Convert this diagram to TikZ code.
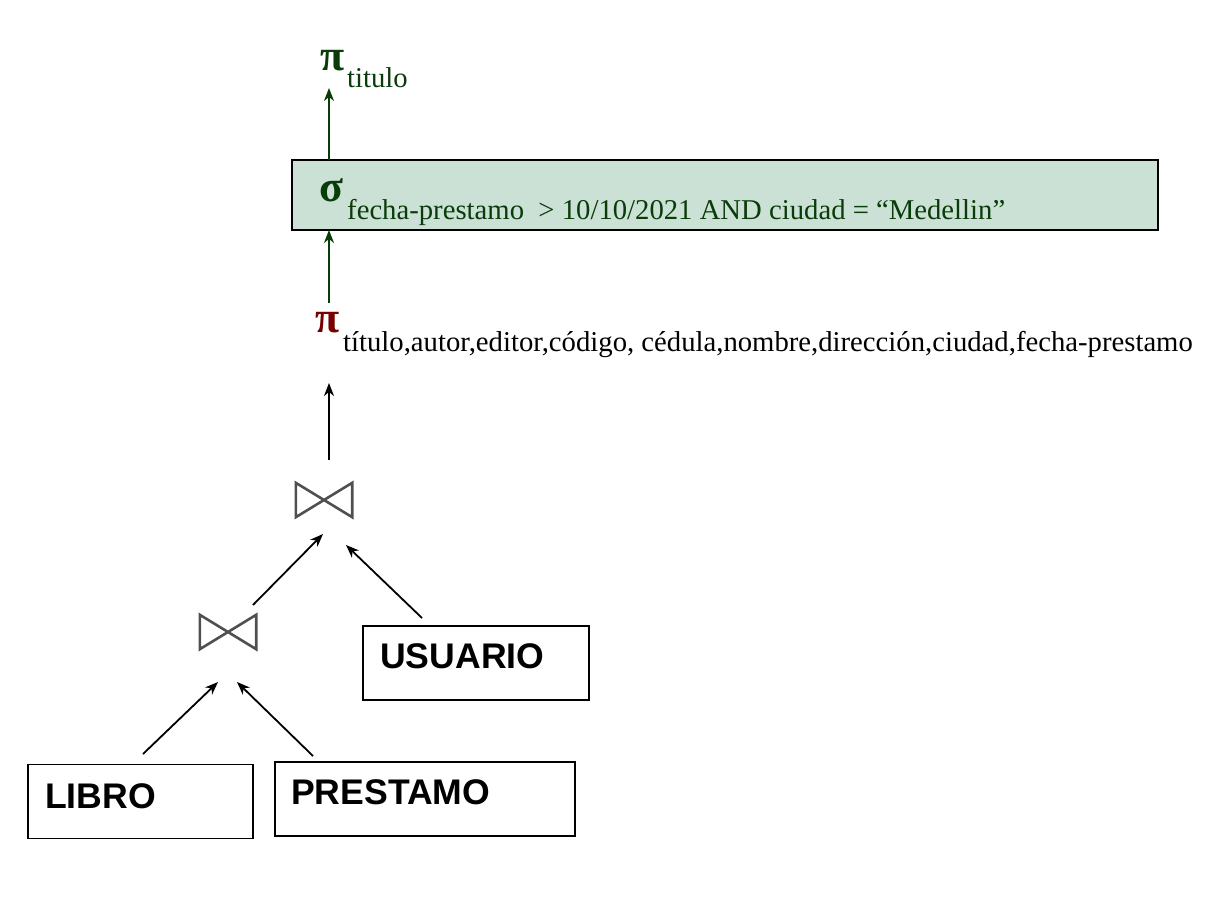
\documentclass[tikz,border=0pt]{standalone}
\usepackage{fontspec}
\setmainfont{Liberation Serif}
\newfontfamily\boxfont{Liberation Sans}
\usetikzlibrary{arrows.meta}
\definecolor{dkgreen}{RGB}{10,60,10}
\definecolor{dkred}{RGB}{120,0,0}
\definecolor{selfill}{RGB}{203,225,213}
\definecolor{joingray}{RGB}{80,80,80}
\tikzset{
  rel/.style={draw=black, line width=1.8pt, minimum width=#1, minimum height=74pt, inner sep=0pt},
  reltext/.style={font=\boxfont\bfseries\fontsize{35.6}{40}\selectfont, inner sep=0pt, anchor=base west},
  arr/.style={line width=1.8pt, -{Stealth[length=13pt,width=10pt,inset=4pt]}},
  garr/.style={arr, draw=dkgreen},
  opsym/.style={font=\bfseries\fontsize{44}{48}\selectfont, inner sep=0pt, anchor=base west},
  sub/.style={font=\fontsize{28.7}{32}\selectfont, inner sep=0pt, anchor=base west},
  joinbox/.style={minimum width=56pt, minimum height=34pt, inner sep=0pt},
  bowtie/.style={draw=joingray, line width=2.6pt, line join=miter},
}
\begin{document}
\begin{tikzpicture}[x=1pt,y=-1pt]
\useasboundingbox (0,0) rectangle (1221,909);
% top projection
\node[opsym, text=dkgreen] (pi1) at (320,71) {π};
\node[sub, text=dkgreen] (pi1s) at (347,88) {titulo};
% selection box
\node[draw=black, line width=1.8pt, fill=selfill, minimum width=866pt, minimum height=70pt, inner sep=0pt] (selbox) at (725,195) {};
\node[opsym, text=dkgreen] (sig) at (319,202) {σ};
\node[sub, text=dkgreen] (sigs) at (347,220) {fecha-prestamo\ \ > 10/10/2021 AND ciudad = “Medellin”};
% lower projection
\node[opsym, text=dkred] (pi2) at (315,333) {π};
\node[sub] (pi2s) at (343,352) {título,autor,editor,código, cédula,nombre,dirección,ciudad,fecha-prestamo};
% joins
\node[joinbox] (j1) at (324,500) {};
\node[joinbox] (j2) at (228,632) {};
\draw[bowtie] (j1.north west) -- (j1.south east) -- (j1.north east) -- (j1.south west) -- cycle;
\draw[bowtie] (j2.north west) -- (j2.south east) -- (j2.north east) -- (j2.south west) -- cycle;
% relations
\node[rel=226pt] (usuario) at (476,663) {};
\node[reltext] at (380,668) {USUARIO};
\node[rel=225pt] (libro) at (140.5,801.5) {};
\node[reltext] at (45,808) {LIBRO};
\node[rel=300pt] (prestamo) at (425,799) {};
\node[reltext] at (291,804) {PRESTAMO};
% arrow coordinates
\coordinate (a1s) at (329,160);
\coordinate (a1e) at (329,88);
\coordinate (a2s) at (329,303);
\coordinate (a2e) at (329,230);
\coordinate (a3s) at (329,460);
\coordinate (a3e) at (329,383);
\coordinate (a4s) at (253,605);
\coordinate (a4e) at (323,534);
\coordinate (a5s) at (422,618);
\coordinate (a5e) at (346,545);
\coordinate (a6s) at (143,754);
\coordinate (a6e) at (218,682);
\coordinate (a7s) at (313,756);
\coordinate (a7e) at (237,682);
\draw[garr] (a1s) -- (a1e);
\draw[garr] (a2s) -- (a2e);
\draw[arr] (a3s) -- (a3e);
\draw[arr] (a4s) -- (a4e);
\draw[arr] (a5s) -- (a5e);
\draw[arr] (a6s) -- (a6e);
\draw[arr] (a7s) -- (a7e);
\end{tikzpicture}
\end{document}
